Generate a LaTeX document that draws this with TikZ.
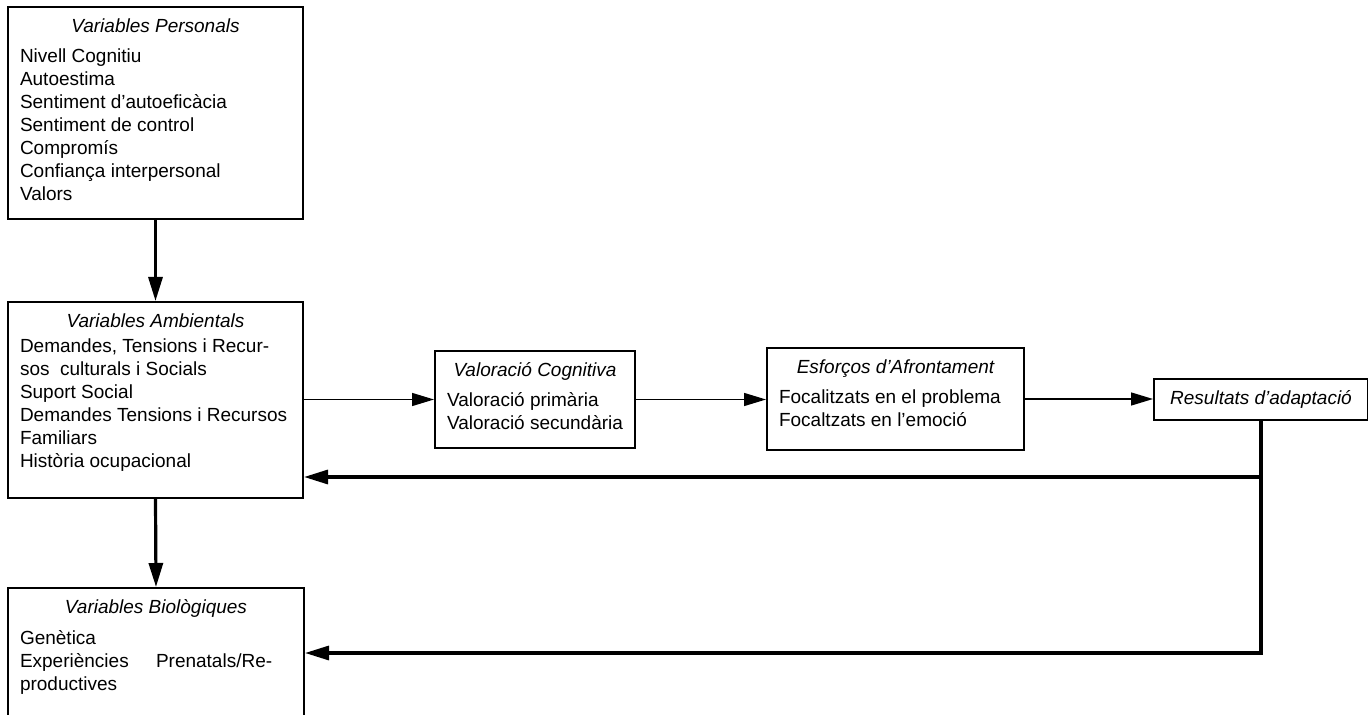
\documentclass[tikz,border=0pt]{standalone}
\usepackage{fontspec}
\setmainfont{Liberation Sans}
\usetikzlibrary{arrows.meta}

\tikzset{
  varbox/.style={draw, line width=1pt, inner xsep=6pt, inner ysep=6pt,
    anchor=north west, font=\fontsize{9.5}{11.5}\selectfont},
  fwd/.style={line width=0.7pt, -{Triangle[length=11pt,width=6.5pt]}},
  thk/.style={line width=1.6pt, -{Triangle[length=12pt,width=7pt]}},
}
\newcommand{\boxhead}[1]{{\centering\itshape #1\par}}

\begin{document}
\begin{tikzpicture}[x=0.5pt,y=-0.5pt]
  \useasboundingbox (0,0) rectangle (1368,715);
  \clip (0,0) rectangle (1368,715);

  % left column
  \node[varbox] (personals) at (7,6) {\parbox[t][94pt][t]{135.5pt}{\raggedright
    \boxhead{Variables Personals}\vspace{3.5pt}
    Nivell Cognitiu\\
    Autoestima\\
    Sentiment d'autoeficàcia\\
    Sentiment de control\\
    Compromís\\
    Confiança interpersonal\\
    Valors}};
  \node[varbox] (ambientals) at (7,301) {\parbox[t][86pt][t]{135.5pt}{\raggedright
    \boxhead{Variables Ambientals}\vspace{1pt}
    Demandes, Tensions i Recur-\\
    sos\ \ culturals i Socials\\
    Suport Social\\
    Demandes Tensions i Recursos\\
    Familiars\\
    Història ocupacional}};
  % bottom edge falls just below the page
  \node[varbox] (biologiques) at (7,587) {\parbox[t][53pt][t]{136pt}{\raggedright
    \boxhead{Variables Biològiques}\vspace{4pt}
    Genètica\\
    Experiències\hspace{11pt} Prenatals/Re-\\
    productives}};

  % middle row
  \node[varbox] (valoracio) at (434,350) {\parbox[t][36.5pt][t]{88pt}{\raggedright
    \boxhead{Valoració Cognitiva}\vspace{3.5pt}
    Valoració primària\\
    Valoració secundària}};
  \node[varbox] (esforcos) at (766,347) {\parbox[t][39pt][t]{116.5pt}{\raggedright
    \boxhead{Esforços d'Afrontament}\vspace{3.5pt}
    Focalitzats en el problema\\
    Focaltzats en l'emoció}};
  \node[varbox, inner sep=0pt, minimum width=107pt, minimum height=20.5pt,
    font=\fontsize{9.5}{11.5}\selectfont\itshape] (resultats) at (1153,378)
    {Resultats d'adaptació};

  % connectors
  \draw[thk] (personals.south) -- (ambientals.north);
  \draw[thk] (ambientals.south) -- (biologiques.north);
  \draw[fwd] (ambientals.east |- valoracio.west) -- (valoracio.west);
  \draw[fwd] (valoracio.east) -- (esforcos.west |- valoracio.east);
  \draw[fwd] (esforcos.east) -- (resultats.west |- esforcos.east);

  % feedback
  \coordinate (back) at (resultats.south |- 0,477);
  \draw[thk] (resultats.south) |- (biologiques.east);
  \draw[thk] (back) -- (ambientals.east |- back);

\end{tikzpicture}
\end{document}
